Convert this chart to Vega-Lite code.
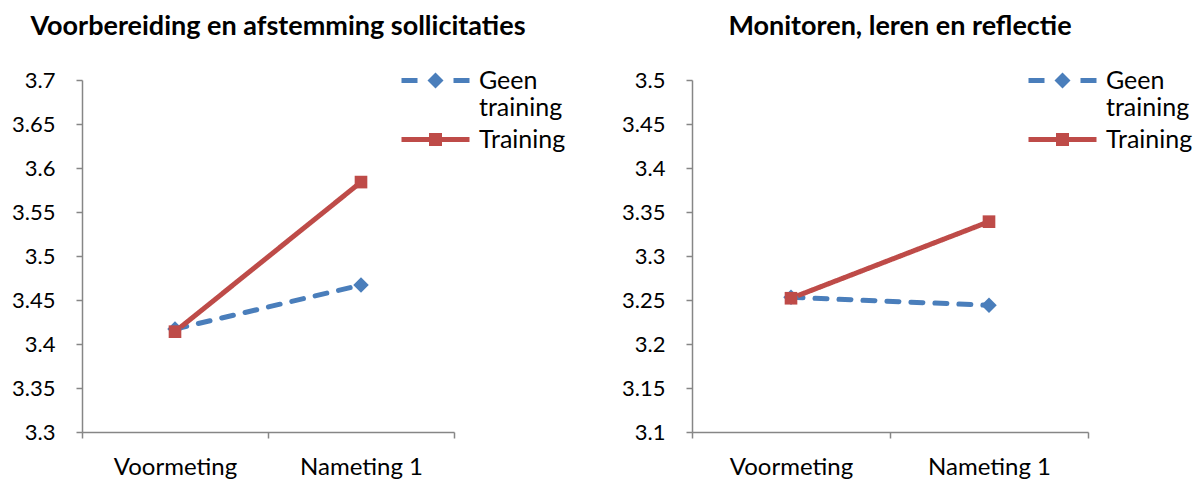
{
  "$schema": "https://vega.github.io/schema/vega-lite/v6.json",
  "padding": {"left": 11, "top": 13, "right": 5, "bottom": 0},
  "spacing": 55,
  "config": {
    "font": "Lato",
    "view": {"stroke": null},
    "axis": {"grid": false, "domainColor": "#868686", "domainWidth": 1.5, "tickColor": "#868686", "tickWidth": 1.5, "tickSize": 6, "labelFontSize": 22, "labelColor": "#000000", "title": null},
    "title": {"fontSize": 27, "fontWeight": "bold", "color": "#000000", "offset": 27, "anchor": "middle", "dx": 10},
    "legend": {"orient": "none", "title": null, "labelFontSize": 25, "labelColor": "#000000", "symbolSize": 625, "symbolStrokeWidth": 0, "symbolOpacity": 1, "labelOffset": 31, "labelLimit": 300}
  },
  "data": {"values": [
    {"panel": "A", "group": "Geen training", "time": "Voormeting", "value": 3.417},
    {"panel": "A", "group": "Geen training", "time": "Nameting 1", "value": 3.467},
    {"panel": "A", "group": "Training", "time": "Voormeting", "value": 3.414},
    {"panel": "A", "group": "Training", "time": "Nameting 1", "value": 3.584},
    {"panel": "B", "group": "Geen training", "time": "Voormeting", "value": 3.253},
    {"panel": "B", "group": "Geen training", "time": "Nameting 1", "value": 3.244},
    {"panel": "B", "group": "Training", "time": "Voormeting", "value": 3.252},
    {"panel": "B", "group": "Training", "time": "Nameting 1", "value": 3.339}
  ]},
  "hconcat": [
    {
      "title": "Voorbereiding en afstemming sollicitaties",
      "width": 372, "height": 352,
      "transform": [{"filter": "datum.panel == 'A'"}],
      "encoding": {
        "x": {"field": "time", "type": "nominal", "sort": ["Voormeting", "Nameting 1"], "scale": {"type": "band", "paddingInner": 0, "paddingOuter": 0}, "axis": {"labelAngle": 0, "tickBand": "extent", "labelPadding": 17, "labelFontSize": 24}},
        "y": {"field": "value", "type": "quantitative", "scale": {"domain": [3.3, 3.7], "nice": false, "zero": false}, "axis": {"values": [3.3, 3.35, 3.4, 3.45, 3.5, 3.55, 3.6, 3.65, 3.7], "format": ".2~f", "labelPadding": 21}}
      },
      "layer": [
        {"mark": {"type": "line", "strokeWidth": 5, "strokeCap": "round"},
         "encoding": {
           "color": {"field": "group", "type": "nominal", "scale": {"domain": ["Geen training", "Training"], "range": ["#4A7EBB", "#BE4B48"]}, "legend": null},
           "strokeDash": {"field": "group", "type": "nominal", "scale": {"domain": ["Geen training", "Training"], "range": [[12, 12], [1, 0]]}, "legend": null}
         }},
        {"transform": [{"filter": "datum.group == 'Geen training'"}],
         "mark": {"type": "point", "filled": true, "opacity": 1, "shape": "diamond", "size": 240},
         "encoding": {"color": {"field": "group", "type": "nominal", "legend": null}}},
        {"transform": [{"filter": "datum.group == 'Training'"}],
         "mark": {"type": "point", "filled": true, "opacity": 1, "shape": "square", "size": 160},
         "encoding": {"color": {"field": "group", "type": "nominal", "legend": null}}},
        {"transform": [{"filter": "datum.group == 'Geen training'"}],
         "mark": {"type": "point", "filled": true, "opacity": 0, "color": "#4A7EBB"},
         "encoding": {
           "shape": {"field": "group", "type": "nominal", "scale": {"range": ["M-2.72,-0.2H-1.44V0.2H-2.72Z M1.44,-0.2H2.72V0.2H1.44Z M0,-0.64L0.64,0L0,0.64L-0.64,0Z"]}, "legend": {"legendX": 341, "legendY": -12, "symbolFillColor": "#4A7EBB", "labelExpr": "['Geen', 'training']"}}
         }},
        {"transform": [{"filter": "datum.group == 'Training'"}],
         "mark": {"type": "point", "filled": true, "opacity": 0, "color": "#BE4B48"},
         "encoding": {
           "shape": {"field": "group", "type": "nominal", "scale": {"range": ["M-2.72,-0.2H2.72V0.2H-2.72Z M-0.52,-0.52H0.52V0.52H-0.52Z"]}, "legend": {"legendX": 341, "legendY": 47, "symbolFillColor": "#BE4B48"}}
         }}
      ],
      "resolve": {"scale": {"shape": "independent"}}
    },
    {
      "title": "Monitoren, leren en reflectie",
      "width": 396, "height": 352,
      "transform": [{"filter": "datum.panel == 'B'"}],
      "encoding": {
        "x": {"field": "time", "type": "nominal", "sort": ["Voormeting", "Nameting 1"], "scale": {"type": "band", "paddingInner": 0, "paddingOuter": 0}, "axis": {"labelAngle": 0, "tickBand": "extent", "labelPadding": 17, "labelFontSize": 24}},
        "y": {"field": "value", "type": "quantitative", "scale": {"domain": [3.1, 3.5], "nice": false, "zero": false}, "axis": {"values": [3.1, 3.15, 3.2, 3.25, 3.3, 3.35, 3.4, 3.45, 3.5], "format": ".2~f", "labelPadding": 21}}
      },
      "layer": [
        {"mark": {"type": "line", "strokeWidth": 5, "strokeCap": "round"},
         "encoding": {
           "color": {"field": "group", "type": "nominal", "scale": {"domain": ["Geen training", "Training"], "range": ["#4A7EBB", "#BE4B48"]}, "legend": null},
           "strokeDash": {"field": "group", "type": "nominal", "scale": {"domain": ["Geen training", "Training"], "range": [[12, 12], [1, 0]]}, "legend": null}
         }},
        {"transform": [{"filter": "datum.group == 'Geen training'"}],
         "mark": {"type": "point", "filled": true, "opacity": 1, "shape": "diamond", "size": 240},
         "encoding": {"color": {"field": "group", "type": "nominal", "legend": null}}},
        {"transform": [{"filter": "datum.group == 'Training'"}],
         "mark": {"type": "point", "filled": true, "opacity": 1, "shape": "square", "size": 160},
         "encoding": {"color": {"field": "group", "type": "nominal", "legend": null}}},
        {"transform": [{"filter": "datum.group == 'Geen training'"}],
         "mark": {"type": "point", "filled": true, "opacity": 0, "color": "#4A7EBB"},
         "encoding": {
           "shape": {"field": "group", "type": "nominal", "scale": {"range": ["M-2.72,-0.2H-1.44V0.2H-2.72Z M1.44,-0.2H2.72V0.2H1.44Z M0,-0.64L0.64,0L0,0.64L-0.64,0Z"]}, "legend": {"legendX": 358, "legendY": -12, "symbolFillColor": "#4A7EBB", "labelExpr": "['Geen', 'training']"}}
         }},
        {"transform": [{"filter": "datum.group == 'Training'"}],
         "mark": {"type": "point", "filled": true, "opacity": 0, "color": "#BE4B48"},
         "encoding": {
           "shape": {"field": "group", "type": "nominal", "scale": {"range": ["M-2.72,-0.2H2.72V0.2H-2.72Z M-0.52,-0.52H0.52V0.52H-0.52Z"]}, "legend": {"legendX": 358, "legendY": 47, "symbolFillColor": "#BE4B48"}}
         }}
      ],
      "resolve": {"scale": {"shape": "independent"}}
    }
  ]
}
